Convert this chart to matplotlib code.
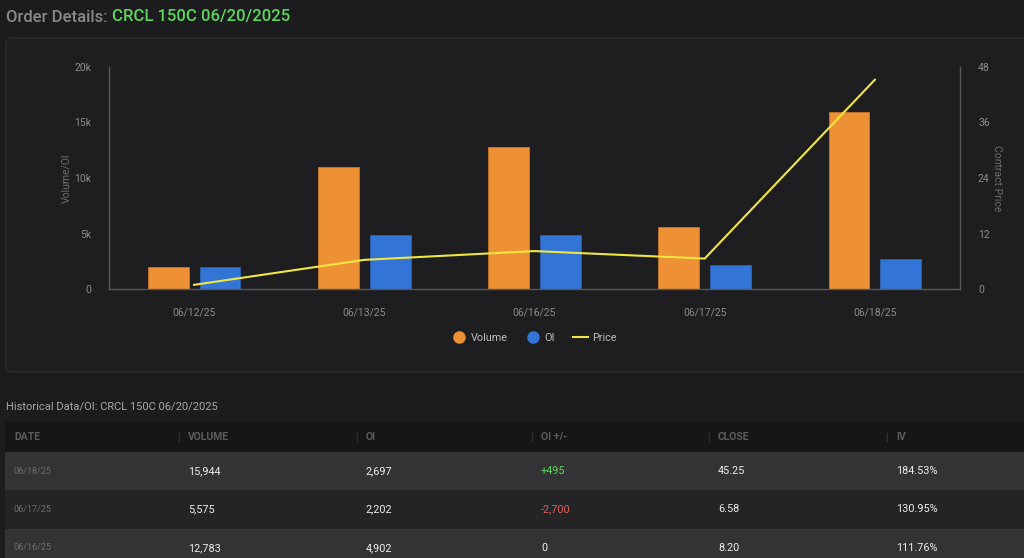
import matplotlib
matplotlib.use("Agg")
import matplotlib.pyplot as plt
from matplotlib.patches import Rectangle, FancyBboxPatch
from matplotlib.lines import Line2D
from matplotlib.ticker import FuncFormatter
import numpy as np

plt.rcParams['font.family'] = ['Roboto', 'DejaVu Sans']

# ---------------- data ----------------
dates = ["06/12/25", "06/13/25", "06/16/25", "06/17/25", "06/18/25"]
volume = [1980, 10990, 12783, 5575, 15944]
oi = [1980, 4880, 4902, 2202, 2697]
price = [0.9, 6.3, 8.20, 6.58, 45.25]

left_ticks = [0, 5000, 10000, 15000, 20000]
right_ticks = [0, 12, 24, 36, 48]

table_cols = ["DATE", "VOLUME", "OI", "OI +/-", "CLOSE", "IV"]
tbl_dates = ["06/18/25", "06/17/25", "06/16/25"]
tbl_volume = ["15,944", "5,575", "12,783"]
tbl_oi = ["2,697", "2,202", "4,902"]
tbl_oi_chg = ["+495", "-2,700", "0"]
tbl_close = ["45.25", "6.58", "8.20"]
tbl_iv = ["184.53%", "130.95%", "111.76%"]

title_left = "Order Details: "
title_right = "CRCL 150C 06/20/2025"
subtitle = "Historical Data/OI: CRCL 150C 06/20/2025"

# ---------------- style ----------------
BG = "#1c1c1e"
ORANGE = "#ee9034"
BLUE = "#3375d6"
YELLOW = "#f2e644"
TICK = "#8c8c8c"
AXIS = "#58585a"

W, H = 1024, 558
fig = plt.figure(figsize=(W / 100, H / 100), dpi=100, facecolor=BG)

# overlay axes in pixel coordinates (y down)
ov = fig.add_axes([0, 0, 1, 1], zorder=0)
ov.set_xlim(0, W)
ov.set_ylim(H, 0)
ov.axis("off")
ov.set_facecolor(BG)

# panel
ov.add_patch(FancyBboxPatch((6, 38), 1030, 334, boxstyle="round,pad=0,rounding_size=6",
                            facecolor="#1e1e20", edgecolor="#2c2c2e", linewidth=1))

# title
t1 = ov.text(6, 17, title_left, color="#8a8a8a", fontsize=12, fontweight="medium",
             va="center", ha="left")
fig.canvas.draw()
bb = t1.get_window_extent()
x_end = bb.x1 / fig.dpi * 100
ov.text(x_end, 17, title_right, color="#5fd65f", fontsize=12, fontweight="medium",
        va="center", ha="left")

# subtitle
ov.text(6, 406, subtitle, color="#a8a8a8", fontsize=8, va="center", ha="left")

# table
col_x = [14, 188, 366, 541, 718, 896]
ov.add_patch(Rectangle((5, 421), W, 31, facecolor="#161618", edgecolor="none"))
for i, name in enumerate(table_cols):
    ov.text(col_x[i], 437, name, color="#5c5c5e", fontsize=7.5, fontweight="bold",
            va="center", ha="left")
    if i > 0:
        ov.text(col_x[i] - 10, 437, "|", color="#3e3e40", fontsize=7.5, va="center", ha="center")

row_tops = [452, 490, 529]
row_h = [38, 39, 40]
row_bg = ["#333335", "#242426", "#333335"]
chg_colors = []
for v in tbl_oi_chg:
    if v.startswith("+"):
        chg_colors.append("#5fd65f")
    elif v.startswith("-"):
        chg_colors.append("#e0605a")
    else:
        chg_colors.append("#ececec")
for r in range(3):
    ov.add_patch(Rectangle((5, row_tops[r]), W, row_h[r], facecolor=row_bg[r], edgecolor="none"))
    yc = row_tops[r] + 19
    ov.text(col_x[0], yc, tbl_dates[r], color="#6e6e70", fontsize=6.5, va="center")
    ov.text(col_x[1], yc, tbl_volume[r], color="#ececec", fontsize=7.8, va="center")
    ov.text(col_x[2], yc, tbl_oi[r], color="#ececec", fontsize=7.8, va="center")
    ov.text(col_x[3], yc, tbl_oi_chg[r], color=chg_colors[r], fontsize=7.8, va="center")
    ov.text(col_x[4], yc, tbl_close[r], color="#ececec", fontsize=7.8, va="center")
    ov.text(col_x[5], yc, tbl_iv[r], color="#ececec", fontsize=7.8, va="center")

# ---------------- chart ----------------
ax_l, ax_r = 109, 960
ax_t, ax_b = 67, 289
ax = fig.add_axes([ax_l / W, (H - ax_b) / H, (ax_r - ax_l) / W, (ax_b - ax_t) / H], zorder=2)
ax.set_facecolor("none")
x = np.arange(len(dates))
bw = 0.24
off = 0.152
ax.bar(x - off, volume, width=bw, color=ORANGE, edgecolor="#c8762a", linewidth=0.6, zorder=2)
ax.bar(x + off, oi, width=bw, color=BLUE, edgecolor="#2a62b4", linewidth=0.6, zorder=2)
ax.set_xlim(-0.5, len(dates) - 0.5)
ax.set_ylim(0, 20000)
ax.set_yticks(left_ticks)
ax.yaxis.set_major_formatter(FuncFormatter(lambda v, p: "0" if v == 0 else f"{int(v/1000)}k"))
ax.set_xticks(x)
ax.set_xticklabels(dates)
ax.tick_params(axis="both", length=0, colors=TICK, labelsize=7.5)
ax.tick_params(axis="y", pad=13)
ax.tick_params(axis="x", pad=13)
for s in ["top", "right"]:
    ax.spines[s].set_visible(False)
for s in ["left", "bottom"]:
    ax.spines[s].set_color(AXIS)
    ax.spines[s].set_linewidth(1)
ax.set_ylabel("Volume/OI", color="#6c6c6e", fontsize=7.5, labelpad=2)

ax2 = ax.twinx()
ax2.set_zorder(3)
ax2.set_facecolor("none")
ax2.plot(x, price, color=YELLOW, linewidth=1.5, zorder=3)
ax2.set_ylim(0, 48)
ax2.set_yticks(right_ticks)
ax2.tick_params(axis="y", length=0, colors=TICK, labelsize=7.5, pad=13)
for s in ["top", "left", "bottom"]:
    ax2.spines[s].set_visible(False)
ax2.spines["right"].set_color(AXIS)
ax2.spines["right"].set_linewidth(1)
ax2.set_ylabel("Contract Price", color="#6c6c6e", fontsize=7.5, rotation=270, labelpad=9)

handles = [
    Line2D([], [], marker="o", linestyle="none", markersize=8, markerfacecolor=ORANGE, markeredgecolor=ORANGE),
    Line2D([], [], marker="o", linestyle="none", markersize=8, markerfacecolor=BLUE, markeredgecolor=BLUE),
    Line2D([], [], color=YELLOW, linewidth=1.5),
]
leg = fig.legend(handles, ["Volume", "OI", "Price"], loc="center",
                 bbox_to_anchor=(534 / W, (H - 338) / H), ncol=3, frameon=False,
                 fontsize=7.8, handlelength=1.4, handletextpad=0.4, columnspacing=1.6,
                 labelcolor="#bdbdbd")

fig.savefig("out.png", dpi=100, facecolor=BG)
